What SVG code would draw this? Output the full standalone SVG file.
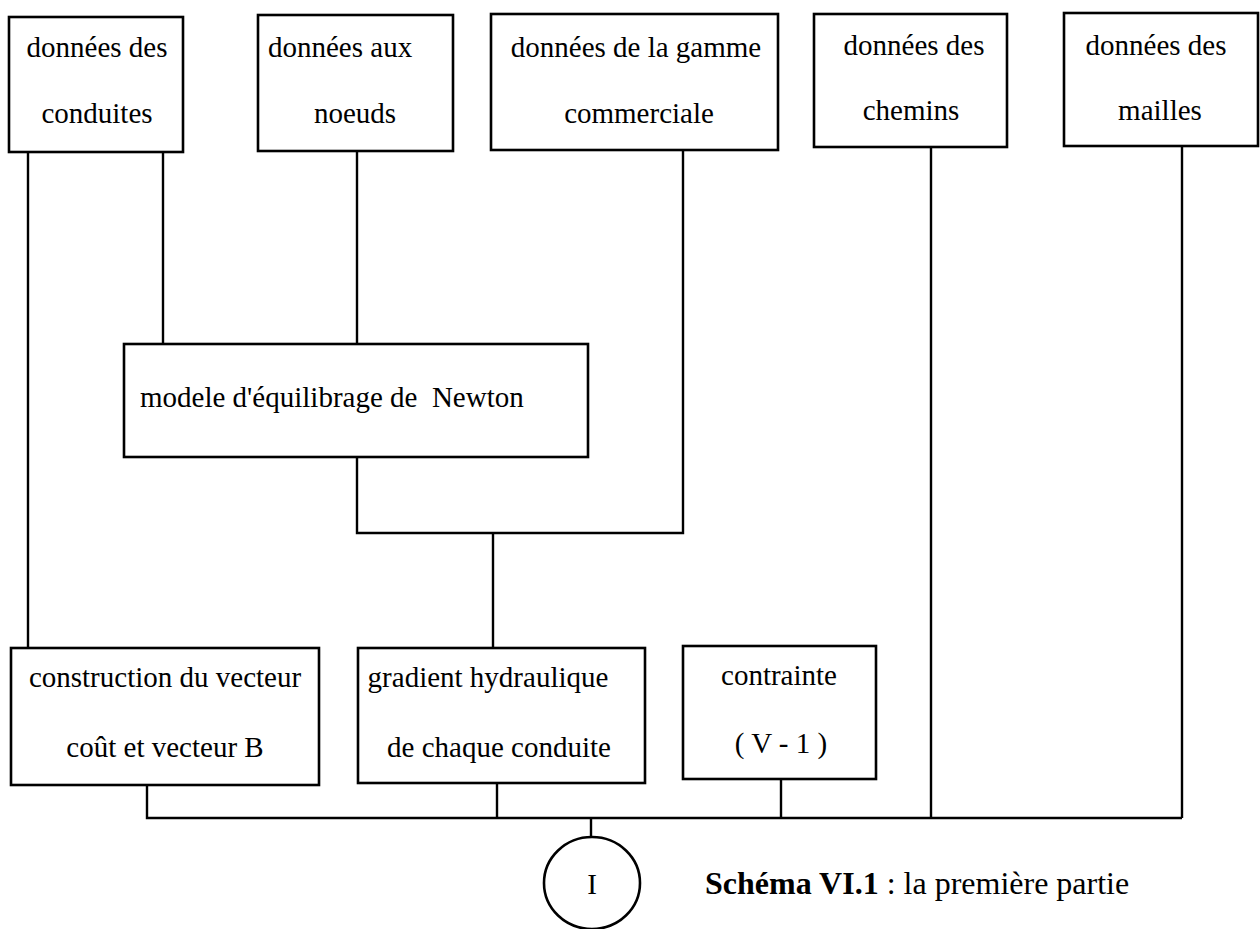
<svg xmlns="http://www.w3.org/2000/svg" width="1260" height="929" viewBox="0 0 1260 929">
<style>
.box{fill:#fff;stroke:#000;stroke-width:2.6}
.ln{fill:none;stroke:#000;stroke-width:2.4}
text{font-family:"Liberation Serif","Times New Roman",serif;font-size:29px;fill:#000;white-space:pre}
.c{text-anchor:middle}
.b{font-weight:bold}
.cap{font-size:32px}
</style>
<rect width="1260" height="929" fill="#fff"/>
<g id="connectors" class="ln">
<path d="M28 152V648"/>
<path d="M163 152V344"/>
<path d="M357 151V344"/>
<path d="M683 150V533H357V457"/>
<path d="M493 533V648"/>
<path d="M931 147V818"/>
<path d="M1182 146V818"/>
<path d="M147 785V818H1182"/>
<path d="M497 783V818"/>
<path d="M781 779V818"/>
<path d="M591 818V837"/>
</g>
<g id="n1"><rect class="box" x="9" y="17" width="174" height="135"/><text class="c" x="97" y="57">données des</text><text class="c" x="97" y="123">conduites</text></g>
<g id="n2"><rect class="box" x="258" y="15" width="195" height="136"/><text x="268" y="57">données aux</text><text class="c" x="355" y="123">noeuds</text></g>
<g id="n3"><rect class="box" x="491" y="14" width="287" height="136"/><text class="c" x="636" y="57">données de la gamme</text><text class="c" x="639" y="123">commerciale</text></g>
<g id="n4"><rect class="box" x="814" y="14" width="193" height="133"/><text class="c" x="914" y="55">données des</text><text class="c" x="911" y="120">chemins</text></g>
<g id="n5"><rect class="box" x="1064" y="13" width="194" height="133"/><text class="c" x="1156" y="55">données des</text><text class="c" x="1160" y="120">mailles</text></g>
<g id="n6"><rect class="box" x="124" y="344" width="464" height="113"/><text x="140" y="407">modele d'équilibrage de  Newton</text></g>
<g id="n7"><rect class="box" x="11" y="648" width="308" height="137"/><text class="c" x="165" y="687">construction du vecteur</text><text class="c" x="165" y="757">coût et vecteur B</text></g>
<g id="n8"><rect class="box" x="358" y="648" width="287" height="135"/><text class="c" x="488" y="687">gradient hydraulique</text><text class="c" x="499" y="757">de chaque conduite</text></g>
<g id="n9"><rect class="box" x="683" y="646" width="193" height="133"/><text class="c" x="779" y="685">contrainte</text><text class="c" x="781" y="753">( V - 1 )</text></g>
<g id="n10"><ellipse class="box" cx="592" cy="883" rx="48" ry="46"/><text class="c" x="592" y="894">I</text></g>
<g id="caption"><text class="cap" x="705" y="894"><tspan class="b">Schéma VI.1</tspan> : la première partie</text></g>
</svg>
